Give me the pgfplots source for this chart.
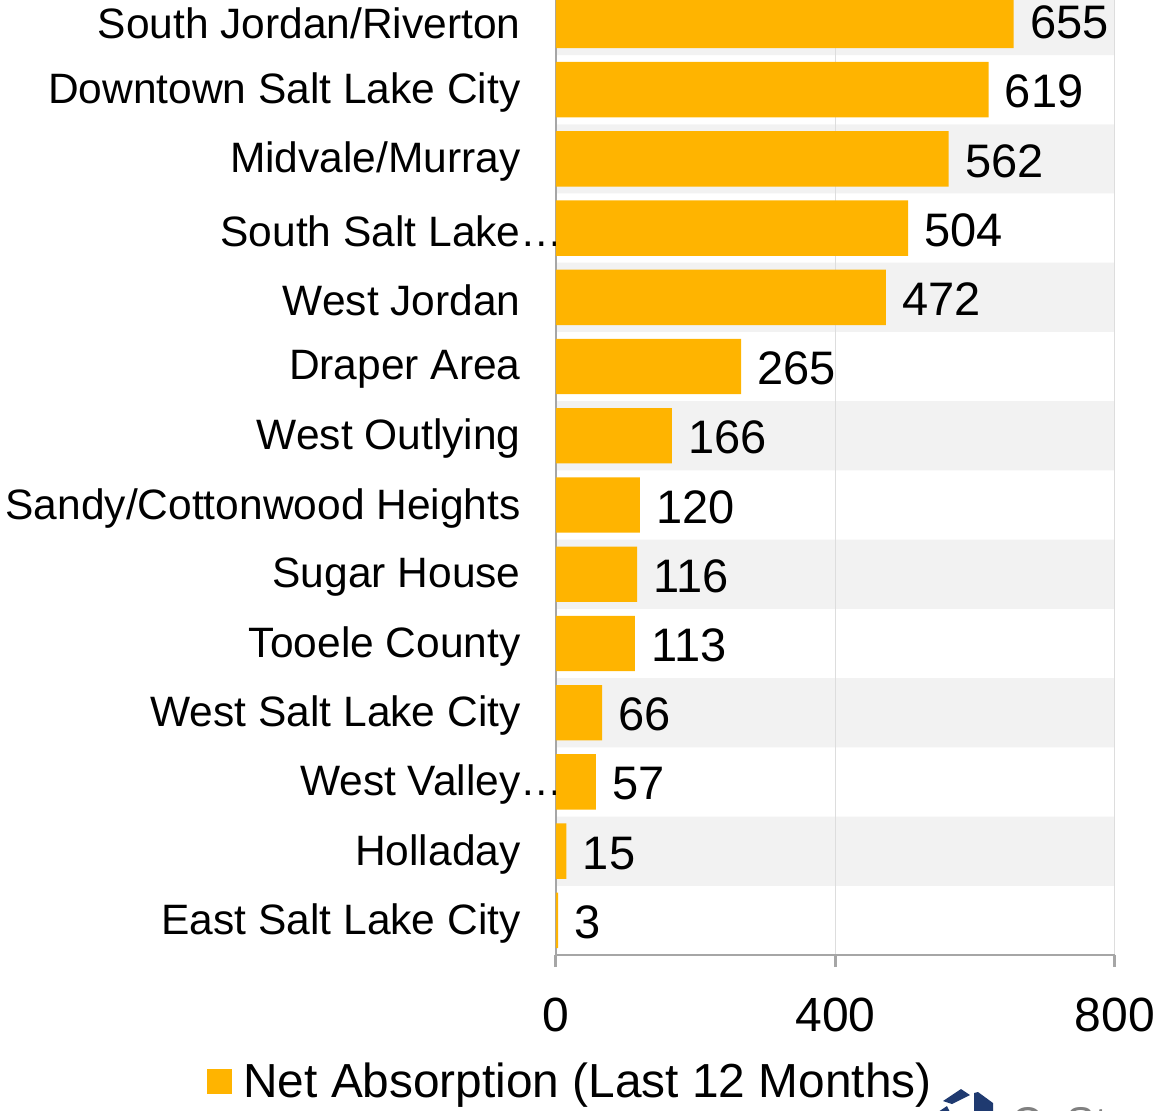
\documentclass[border=0pt]{standalone}
\usepackage{fontspec}
\setmainfont{Liberation Sans}
\usepackage{pgfplots}
\pgfplotsset{compat=1.18}
\definecolor{barc}{HTML}{FFB400}
\definecolor{bandc}{HTML}{F2F2F2}
\definecolor{gridc}{HTML}{DDDDDD}
\definecolor{axc}{HTML}{A6A6A6}
\definecolor{navy}{HTML}{1F3A70}
\begin{document}
\begin{tikzpicture}
\begin{axis}[
  at={(0pt,0pt)}, anchor=south west,
  width=279.5pt, height=484.6pt, scale only axis,
  set layers,
  xmin=0, xmax=800, ymin=-0.5, ymax=13.5, y dir=reverse,
  xtick={0,400,800}, ytick={0,...,13},
  yticklabels={South Jordan/Riverton, Downtown Salt Lake City, Midvale/Murray, {South Salt Lake\rlap{…}}, West Jordan, Draper Area, West Outlying, Sandy/Cottonwood Heights, Sugar House, Tooele County, West Salt Lake City, {West Valley\rlap{…}}, Holladay, East Salt Lake City},
  axis x line*=bottom, axis y line*=left,
  x axis line style={-, draw=axc, line width=1pt},
  y axis line style={-, draw=axc, line width=0.6pt},
  xmajorgrids, grid style={draw=gridc, line width=0.5pt},
  tick align=outside, major tick length=6pt,
  xtick style={draw=axc, line width=1.5pt},
  ytick style={draw=none},
  xticklabel style={font=\fontsize{24}{28}\selectfont, inner sep=0pt, yshift=-15.5pt},
  yticklabel style={font=\fontsize{21.25}{25}\selectfont, inner sep=0pt, xshift=-11.5pt, yshift=-1.5pt},
  /pgf/number format/assume math mode=true,
  clip=false,
  legend style={draw=none, fill=none, at={(-0.6243,-0.131)}, anchor=west,
    font=\fontsize{23.9}{28}\selectfont, inner sep=0pt,
    nodes={inner sep=0pt},
    /tikz/every odd column/.style={column sep=5.5pt}},
  legend image code/.code={\fill[barc] (0pt,-6.25pt) rectangle (12.5pt,6.25pt);},
]
\addplot[xbar, bar width=1, bar shift=0pt, fill=bandc, draw=none, forget plot, on layer=axis background]
  coordinates {(800,0) (800,2) (800,4) (800,6) (800,8) (800,10) (800,12)};
\addplot[xbar, bar width=0.8, bar shift=0pt, fill=barc, draw=none,
  point meta=x, nodes near coords,
  every node near coord/.style={anchor=west, inner sep=0pt, xshift=8pt, yshift=-1pt, font=\fontsize{23.5}{28}\selectfont, text=black}]
  coordinates {(655,0) (619,1) (562,2) (504,3) (472,4) (265,5) (166,6) (120,7) (116,8) (113,9) (66,10) (57,11) (15,12) (3,13)};
\addlegendentry{Net Absorption (Last 12 Months)}
\end{axis}
% partial logo at the lower right
\fill[navy] (202.5pt,-67pt) -- (207pt,-70pt) -- (198pt,-74.5pt) -- (193.5pt,-73pt) -- cycle;
\fill[navy] (209pt,-69pt) -- (211pt,-68.5pt) -- (218.5pt,-74pt) -- (218.5pt,-78.5pt) -- (209pt,-78.5pt) -- cycle;
\fill[navy] (191pt,-78.5pt) -- (195.5pt,-75.5pt) -- (197pt,-78.5pt) -- cycle;
\node[anchor=base west, inner sep=0pt, text=gray, font=\fontsize{21.5}{26}\selectfont] at (227.5pt,-91pt) {CoStar};
\pgfresetboundingbox
\useasboundingbox (-278pt,-77.5pt) rectangle (303pt,477.5pt);
\end{tikzpicture}
\end{document}
